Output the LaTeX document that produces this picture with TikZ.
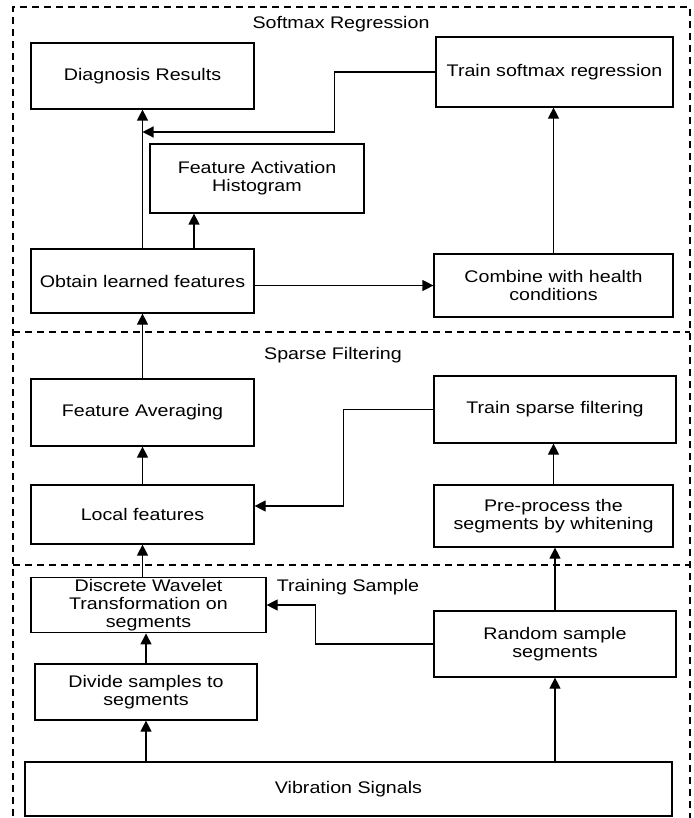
\documentclass[tikz,border=0pt]{standalone}
\usepackage{fontspec}
\setmainfont[FakeStretch=1.17]{Liberation Sans}
\usepackage{tikz}
\usetikzlibrary{positioning,calc,arrows.meta}

\begin{document}
\begin{tikzpicture}[x=0.5pt, y=-0.5pt,
    box/.style={rectangle, draw, line width=0.6pt, align=center, inner sep=1pt, font=\fontsize{8.4}{9}\selectfont},
    arr/.style={draw, line width=0.6pt, -{Triangle[length=5.5pt, width=5.5pt]}},
    frame/.style={draw, line width=0.6pt, dash pattern=on 3.5pt off 2.5pt},
    title/.style={font=\fontsize{8.4}{9}\selectfont}]
    \useasboundingbox (0,0) rectangle (694,818);

    % sections
    \draw[frame] (13,840) -- (13,7) -- (690,7) -- (690,840);
    \draw[frame] (13,332) -- (690,332);
    \draw[frame] (13,565) -- (690,565);
    \node[title] (tsoft) at (341,24) {Softmax Regression};
    \node[title] (tsparse) at (333,355) {Sparse Filtering};
    \node[title] (tsample) at (348,587) {Training Sample};

    % softmax regression
    \node[box, minimum width=223*0.5pt, minimum height=66*0.5pt] (diag) at (142.5,76) {Diagnosis Results};
    \node[box, minimum width=237*0.5pt, minimum height=70*0.5pt] (trainsm) at (554.5,72) {Train softmax regression};
    \node[box, minimum width=214*0.5pt, minimum height=69*0.5pt] (hist) at (257,178.5) {Feature Activation\\Histogram};
    \node[box, minimum width=223*0.5pt, minimum height=64*0.5pt] (obtain) at (142.5,281) {Obtain learned features};
    \node[box, minimum width=239*0.5pt, minimum height=63*0.5pt] (combine) at (553.5,285.5) {Combine with health\\conditions};

    % sparse filtering
    \node[box, minimum width=223*0.5pt, minimum height=67*0.5pt] (favg) at (142.5,412.5) {Feature Averaging};
    \node[box, minimum width=242*0.5pt, minimum height=67*0.5pt] (trainsf) at (555,409.5) {Train sparse filtering};
    \node[box, minimum width=223*0.5pt, minimum height=59*0.5pt] (local) at (142.5,514.5) {Local features};
    \node[box, minimum width=239*0.5pt, minimum height=62*0.5pt] (preproc) at (553.5,516) {Pre-process the\\segments by whitening};

    % training sample
    \node[box, minimum width=235*0.5pt, minimum height=54*0.5pt] (dwt) at (148.5,605) {Discrete Wavelet\\Transformation on\\segments};
    \node[box, minimum width=242*0.5pt, minimum height=66*0.5pt] (rand) at (555,644) {Random sample\\segments};
    \node[box, minimum width=222*0.5pt, minimum height=56*0.5pt] (divide) at (146,692) {Divide samples to\\segments};
    \node[box, minimum width=647*0.5pt, minimum height=54*0.5pt] (vib) at (348.5,789) {Vibration Signals};

    \coordinate (merge) at (142.5,132);
    \coordinate (histfoot) at (194,249);

    \draw[arr] (obtain.north) -- (diag.south);
    \draw[arr] (histfoot) -- (histfoot |- hist.south);
    \draw[arr] (trainsm.west) -- ++(-101,0) |- (merge);
    \draw[arr] (obtain.east |- combine.west) -- (combine.west);
    \draw[arr] (combine.north) -- (combine.north |- trainsm.south);

    \draw[arr] (favg.north) -- (obtain.south);
    \draw[arr] (local.north) -- (favg.south);
    \draw[arr] (trainsf.west) -- ++(-90,0) |- ($(local.east)+(0,-8.5)$);
    \draw[arr] (preproc.north) -- (preproc.north |- trainsf.south);

    \draw[arr] (local.south |- dwt.north) -- (local.south);
    \draw[arr] (rand.north) -- (rand.north |- preproc.south);
    \draw[arr] (rand.west) -- ++(-118,0) |- (dwt.east);
    \draw[arr] (divide.north) -- (divide.north |- dwt.south);
    \draw[arr] (divide.south |- vib.north) -- (divide.south);
    \draw[arr] (rand.south |- vib.north) -- (rand.south);
\end{tikzpicture}
\end{document}
